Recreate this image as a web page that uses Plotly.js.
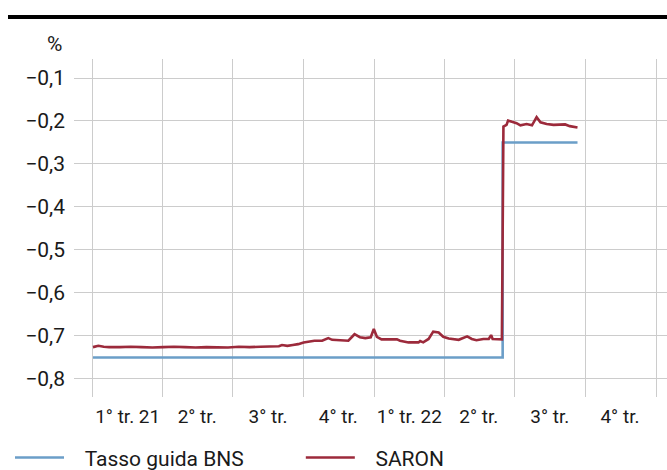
<!DOCTYPE html>
<html>
<head>
<meta charset="utf-8">
<script src="https://cdn.plot.ly/plotly-3.0.1.min.js"></script>
<style>html,body{margin:0;padding:0;background:#fff;}#chart{width:667px;height:470px;}</style>
</head>
<body>
<div id="chart"></div>
<script>
// Policy rate (Tasso guida BNS)
const policyDates = ['2021-01-01', '2022-06-16', '2022-09-21'];
const policyValues = [-0.75, -0.25, -0.25];

// SARON
const saronDates = [
  '2021-01-01','2021-01-08','2021-01-15','2021-01-22','2021-02-05','2021-02-19','2021-03-05','2021-03-19',
  '2021-04-02','2021-04-16','2021-04-30','2021-05-14','2021-05-28','2021-06-11','2021-06-25','2021-07-09',
  '2021-07-23','2021-08-06','2021-08-20','2021-08-30','2021-09-03','2021-09-10','2021-09-17','2021-09-24',
  '2021-10-01','2021-10-08','2021-10-15','2021-10-25','2021-11-02','2021-11-07','2021-11-15','2021-11-28',
  '2021-12-06','2021-12-13','2021-12-20','2021-12-27','2021-12-31','2022-01-04','2022-01-10','2022-01-23',
  '2022-01-30','2022-02-03','2022-02-14','2022-02-27','2022-03-01','2022-03-05','2022-03-12','2022-03-18',
  '2022-03-25','2022-03-31','2022-04-07','2022-04-20','2022-05-01','2022-05-07','2022-05-13','2022-05-22',
  '2022-05-29','2022-06-01','2022-06-03','2022-06-15','2022-06-17','2022-06-21','2022-06-23','2022-06-28',
  '2022-07-04','2022-07-09','2022-07-17','2022-07-24','2022-07-30','2022-08-04','2022-08-12','2022-08-21',
  '2022-08-30','2022-09-05','2022-09-11','2022-09-21'
];
const saronValues = [
  -0.726,-0.723,-0.725,-0.726,-0.726,-0.725,-0.726,-0.727,
  -0.726,-0.725,-0.726,-0.727,-0.726,-0.726,-0.727,-0.725,
  -0.726,-0.725,-0.725,-0.724,-0.721,-0.723,-0.721,-0.719,
  -0.715,-0.713,-0.711,-0.711,-0.705,-0.709,-0.710,-0.711,
  -0.696,-0.703,-0.705,-0.703,-0.684,-0.702,-0.708,-0.709,
  -0.708,-0.711,-0.715,-0.715,-0.712,-0.715,-0.707,-0.690,
  -0.692,-0.702,-0.706,-0.709,-0.701,-0.707,-0.710,-0.707,
  -0.707,-0.698,-0.707,-0.708,-0.213,-0.209,-0.199,-0.202,
  -0.205,-0.210,-0.207,-0.210,-0.191,-0.203,-0.207,-0.209,
  -0.208,-0.208,-0.212,-0.215
];

// Axis ticks
const quarterStarts = ['2021-01-01','2021-04-01','2021-07-01','2021-10-01','2022-01-01','2022-04-01','2022-07-01','2022-10-01','2023-01-01'];
const quarterMids = ['2021-02-15','2021-05-16','2021-08-16','2021-11-15','2022-02-15','2022-05-16','2022-08-16','2022-11-15'];
const quarterLabels = ['1° tr. 21','2° tr.','3° tr.','4° tr.','1° tr. 22','2° tr.','3° tr.','4° tr.'];
const yTicks = [-0.1,-0.2,-0.3,-0.4,-0.5,-0.6,-0.7,-0.8];

const FONT = 'Roboto, "Liberation Sans", sans-serif';
const GRID = '#cccccc';
const GAP = '\u00a0\u00a0\u00a0';

const traces = [
  {x: policyDates, y: policyValues, name: GAP + 'Tasso guida BNS', type: 'scatter', mode: 'lines',
   legend: 'legend', line: {color: '#6b9ec8', width: 2.6, shape: 'hv'}},
  {x: saronDates, y: saronValues, name: GAP + 'SARON', type: 'scatter', mode: 'lines',
   legend: 'legend2', line: {color: '#9c2a3b', width: 2.6}}
];

const legendFont = {family: FONT, size: 21, color: '#1a1a1a'};
const layout = {
  width: 667, height: 470,
  margin: {l: 74, r: 0, t: 59, b: 73, pad: 0},
  paper_bgcolor: '#ffffff', plot_bgcolor: '#ffffff',
  separators: ', ',
  font: {family: FONT, size: 19, color: '#1a1a1a'},
  showlegend: true,
  legend: {orientation: 'h', xref: 'container', yref: 'container', x: 0.015, xanchor: 'left',
           y: 0.026, yanchor: 'middle', font: legendFont, itemwidth: 49, bgcolor: 'rgba(0,0,0,0)'},
  legend2: {orientation: 'h', xref: 'container', yref: 'container', x: 0.451, xanchor: 'left',
           y: 0.026, yanchor: 'middle', font: legendFont, itemwidth: 49, bgcolor: 'rgba(0,0,0,0)'},
  xaxis: {
    type: 'date', range: ['2020-12-07 10:00', '2023-01-15'],
    tickmode: 'array', tickvals: quarterMids, ticktext: quarterLabels,
    showgrid: false, zeroline: false, showline: false, ticks: '',
    ticklabelstandoff: 6,
    tickfont: {family: FONT, size: 19, color: '#1a1a1a'},
    minor: {tickmode: 'array', tickvals: quarterStarts, showgrid: true, gridcolor: GRID, gridwidth: 1, ticks: ''}
  },
  yaxis: {
    range: [-0.842, -0.0558],
    tickmode: 'array', tickvals: yTicks,
    tickformat: '.1f',
    showgrid: true, gridcolor: GRID, gridwidth: 1,
    zeroline: false, showline: false, ticks: '',
    ticklabelstandoff: 8,
    tickfont: {family: FONT, size: 21, color: '#1a1a1a'}
  },
  shapes: [
    {type: 'line', xref: 'paper', yref: 'paper', x0: -0.1113, x1: 1, y0: 1.1243, y1: 1.1243,
     line: {color: '#000000', width: 4}}
  ],
  annotations: [
    {text: '%', xref: 'paper', yref: 'paper', x: -0.0337, y: 1.0444, xanchor: 'center', yanchor: 'middle',
     showarrow: false, font: {family: FONT, size: 21, color: '#1a1a1a'}}
  ]
};

Plotly.newPlot('chart', traces, layout, {displayModeBar: false, staticPlot: true});
</script>
</body>
</html>
